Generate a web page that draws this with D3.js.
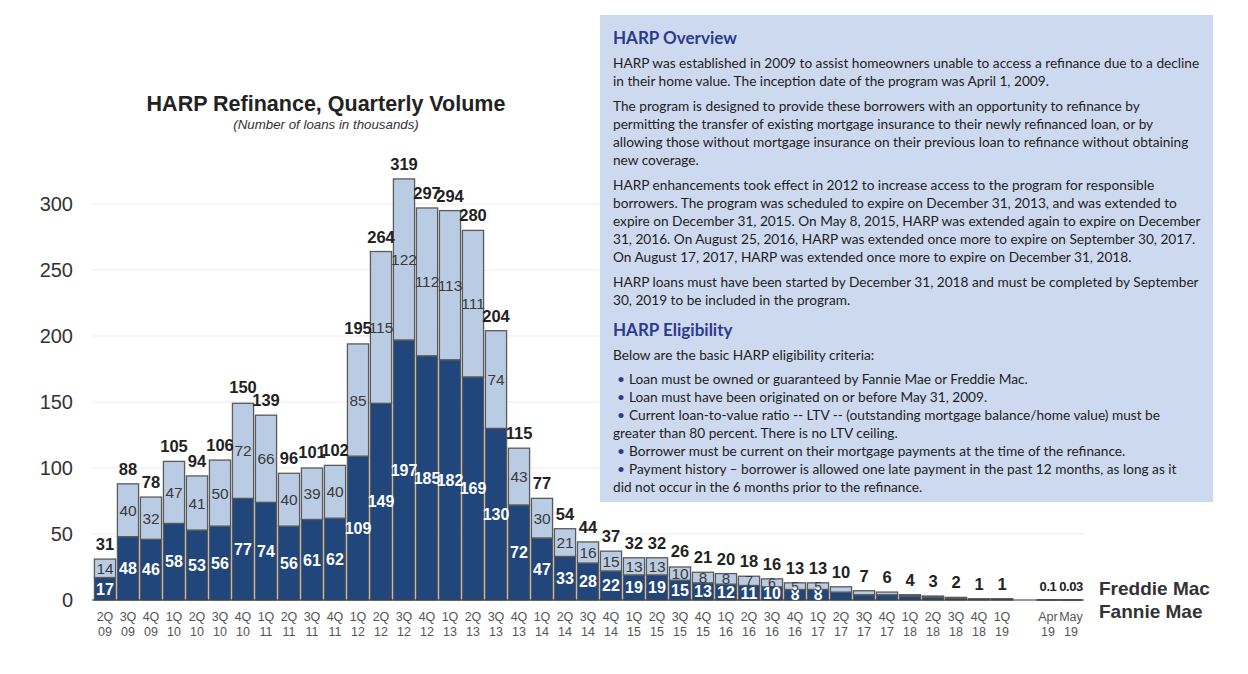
<!DOCTYPE html>
<html><head><meta charset="utf-8">
<script src="https://cdn.jsdelivr.net/npm/d3@7"></script>
<style>body{margin:0;background:#fff;} svg{display:block;}</style>
</head><body><svg id="c" width="1248" height="674"></svg>
<script>
// ---------- DATA ----------
const quarters = ["2Q 09","3Q 09","4Q 09",
  "1Q 10","2Q 10","3Q 10","4Q 10",
  "1Q 11","2Q 11","3Q 11","4Q 11",
  "1Q 12","2Q 12","3Q 12","4Q 12",
  "1Q 13","2Q 13","3Q 13","4Q 13",
  "1Q 14","2Q 14","3Q 14","4Q 14",
  "1Q 15","2Q 15","3Q 15","4Q 15",
  "1Q 16","2Q 16","3Q 16","4Q 16",
  "1Q 17","2Q 17","3Q 17","4Q 17",
  "1Q 18","2Q 18","3Q 18","4Q 18",
  "1Q 19","Apr 19","May 19"];
const fannieMae = [17,48,46,58,53,56,77,74,56,61,62,109,149,197,185,182,169,130,72,47,33,28,22,19,19,15,13,12,11,10,8,8,6,4,4,3,2,1.2,0.6,0.6,0.06,0.02];
const freddieMac = [14,40,32,47,41,50,72,66,40,39,40,85,115,122,112,113,111,74,43,30,21,16,15,13,13,10,8,8,7,6,5,5,4,3,2,1,1,0.8,0.4,0.4,0.04,0.01];
const totals = [31,88,78,105,94,106,150,139,96,101,102,195,264,319,297,294,280,204,115,77,54,44,37,32,32,26,21,20,18,16,13,13,10,7,6,4,3,2,1,1,0.1,0.03];
const gapAfter = "1Q 19";          // an empty slot follows this category
const innerLabelMin = 13;          // segment labels shown for totals >= this
const yTicks = [0,50,100,150,200,250,300];
const seriesNames = ["Freddie Mac","Fannie Mae"];

const title = "HARP Refinance, Quarterly Volume";
const subtitle = "(Number of loans in thousands)";

const boxBlocks = [
  {type:"h", text:"HARP Overview"},
  {type:"p", lines:["HARP was established in 2009 to assist homeowners unable to access a refinance due to a decline",
                    "in their home value.  The inception date of the program was April 1, 2009."]},
  {type:"p", lines:["The program is designed to provide these borrowers with an opportunity to refinance by",
                    "permitting the transfer of existing mortgage insurance to their newly refinanced loan, or by",
                    "allowing those without mortgage insurance on their previous loan to refinance without obtaining",
                    "new coverage."]},
  {type:"p", lines:["HARP enhancements took effect in 2012 to increase access to the program for responsible",
                    "borrowers.  The program was scheduled to expire on December 31, 2013, and was extended to",
                    "expire on December 31, 2015.  On May 8, 2015, HARP was extended again to expire on December",
                    "31, 2016.  On August 25, 2016, HARP was extended once more to expire on September 30, 2017.",
                    "On August 17, 2017, HARP was extended once more to expire on December 31, 2018."]},
  {type:"p", lines:["HARP loans must have been started by December 31, 2018 and must be completed by September",
                    "30, 2019 to be included in the program."]},
  {type:"h", text:"HARP Eligibility"},
  {type:"p", lines:["Below are the basic HARP eligibility criteria:"]},
  {type:"b", lines:["•Loan must be owned or guaranteed by Fannie Mae or Freddie Mac.",
                    "•Loan must have been originated on or before May 31, 2009.",
                    "•Current loan-to-value ratio -- LTV -- (outstanding mortgage balance/home value) must be",
                    "greater than 80 percent.  There is no LTV ceiling.",
                    "•Borrower must be current on their mortgage payments at the time of the refinance.",
                    "•Payment history – borrower is allowed one late payment in the past 12 months, as long as it",
                    "did not occur in the 6 months prior to the refinance."]}
];

// ---------- CHART ----------
const svg = d3.select("#c");
const FONT = "'Liberation Sans', Arial, sans-serif";
const DARK = "#21467c", LIGHT = "#bacbe4", EDGE = "#5a5a5a";

const domain = quarters.flatMap(q => q === gapAfter ? [q, "_gap"] : [q]);
const x = d3.scaleBand().domain(domain).range([93.5, 93.5 + domain.length * 23])
  .paddingInner(0.08).paddingOuter(0.04);
const y = d3.scaleLinear().domain([0, 300]).range([600, 204]);

const data = quarters.map((q, i) => ({q, fm: fannieMae[i], fr: freddieMac[i], total: totals[i]}));

// gridlines
svg.append("g").selectAll("line").data(yTicks.filter(t => t > 0)).join("line")
  .attr("x1", 92).attr("x2", 1085).attr("y1", d => y(d)).attr("y2", d => y(d))
  .attr("stroke", "#ececec").attr("stroke-width", 1);

// y axis labels
const yAxis = svg.append("g").attr("transform", "translate(80,0)")
  .call(d3.axisLeft(y).tickValues(yTicks).tickSize(0).tickPadding(7));
yAxis.select(".domain").remove();
yAxis.selectAll("text").attr("font-family", FONT).attr("font-size", 20).attr("fill", "#333");

// text box
const box = svg.append("g");
box.append("rect").attr("x", 600).attr("y", 15).attr("width", 613).attr("height", 487).attr("fill", "#cdd9ee");

// bars
const bars = svg.append("g");
const g = bars.selectAll("g").data(data).join("g");
g.append("rect").attr("x", d => x(d.q)).attr("width", x.bandwidth())
  .attr("y", d => y(d.fm)).attr("height", d => y(0) - y(d.fm))
  .attr("fill", DARK).attr("stroke", EDGE).attr("stroke-width", 1.3);
g.append("rect").attr("x", d => x(d.q)).attr("width", x.bandwidth())
  .attr("y", d => y(d.fm + d.fr)).attr("height", d => y(d.fm) - y(d.fm + d.fr))
  .attr("fill", LIGHT).attr("stroke", EDGE).attr("stroke-width", 1.3);

// x axis line
svg.append("line").attr("x1", 92).attr("x2", 1084).attr("y1", y(0)).attr("y2", y(0))
  .attr("stroke", "#333").attr("stroke-width", 1);

// segment labels (smaller where the segment is short)
const inner = data.filter(d => d.total >= innerLabelMin);
const segSize = v => Math.min(15.5, 11 + (y(0) - y(v)) * 0.4);
svg.append("g").selectAll("text").data(inner).join("text")
  .attr("x", d => x(d.q) + x.bandwidth() / 2)
  .attr("y", d => (y(0) + y(d.fm)) / 2).attr("dy", "0.36em")
  .attr("text-anchor", "middle").attr("font-family", FONT)
  .attr("font-size", d => segSize(d.fm) + 0.5)
  .attr("font-weight", "bold").attr("fill", "#fff").text(d => d.fm);
svg.append("g").selectAll("text").data(inner).join("text")
  .attr("x", d => x(d.q) + x.bandwidth() / 2)
  .attr("y", d => (y(d.fm) + y(d.fm + d.fr)) / 2).attr("dy", "0.36em")
  .attr("text-anchor", "middle").attr("font-family", FONT)
  .attr("font-size", d => segSize(d.fr))
  .attr("fill", "#3a3a3a").text(d => d.fr);

// total labels
svg.append("g").selectAll("text").data(data).join("text")
  .attr("x", d => x(d.q) + x.bandwidth() / 2)
  .attr("y", d => y(Math.max(d.total, d.fm + d.fr)) - 9)
  .attr("text-anchor", "middle").attr("font-family", FONT)
  .attr("font-size", d => d.total < 1 ? 13 : 16.5).attr("font-weight", "bold")
  .attr("letter-spacing", d => d.total < 1 ? -0.4 : 0)
  .attr("fill", "#222").text(d => d.total);

// x axis labels
const xAxis = svg.append("g").attr("transform", `translate(0,${y(0)})`)
  .call(d3.axisBottom(x).tickValues(quarters).tickSize(0).tickFormat(""));
xAxis.select(".domain").remove();
xAxis.selectAll(".tick text").each(function(d) {
  const parts = d.split(" ");
  const t = d3.select(this).attr("y", 0).attr("dy", null)
    .attr("font-family", FONT).attr("font-size", 12.5).attr("fill", "#555");
  t.selectAll("tspan").data(parts).join("tspan")
    .attr("x", 0).attr("y", (p, i) => 21 + i * 15).text(p => p);
});

// legend labels
svg.append("g").selectAll("text").data(seriesNames).join("text")
  .attr("x", 1099).attr("y", (d, i) => 595 + i * 23)
  .attr("font-family", FONT).attr("font-size", 19).attr("font-weight", "bold")
  .attr("fill", "#333").text(d => d);

// title
svg.append("text").attr("x", 326).attr("y", 111).attr("text-anchor", "middle")
  .attr("font-family", FONT).attr("font-size", 21.5).attr("font-weight", "bold")
  .attr("fill", "#222").text(title);
svg.append("text").attr("x", 326).attr("y", 129).attr("text-anchor", "middle")
  .attr("font-family", FONT).attr("font-size", 13.3).attr("font-style", "italic")
  .attr("fill", "#333").text(subtitle);

// ---------- TEXT BOX CONTENT ----------
const BFONT = "Lato, 'Open Sans', sans-serif";
const probe = box.append("text").attr("font-family", BFONT).attr("font-size", 12)
  .text(boxBlocks[1].lines[0]);
const bodySize = 12 * 587 / probe.node().getComputedTextLength();
probe.remove();
const probeH = box.append("text").attr("font-family", BFONT).attr("font-size", 15).attr("font-weight", "bold")
  .text(boxBlocks[0].text);
const headSize = 15 * 124 / probeH.node().getComputedTextLength();
probeH.remove();

const BX = 613;
let cy = 44;
const LINE = 18;
boxBlocks.forEach((b, bi) => {
  if (b.type === "h") {
    if (bi > 0) cy += 6;
    box.append("text").attr("x", BX).attr("y", cy).attr("font-family", BFONT)
      .attr("font-size", headSize).attr("font-weight", "bold").attr("fill", "#2e3a8f").text(b.text);
    cy += 24;
  } else {
    if (b.type === "b") cy -= 1;
    b.lines.forEach(l => {
      const t = box.append("text").attr("x", BX).attr("y", cy).attr("font-family", BFONT)
        .attr("font-size", bodySize).attr("fill", "#1e1e1e");
      if (l.startsWith("•")) {
        t.append("tspan").attr("x", BX + 4).attr("fill", "#2e3a8f").text("•");
        t.append("tspan").attr("x", BX + 16).text(l.slice(1));
      } else t.text(l);
      cy += LINE;
    });
    cy += 7;
  }
});
</script>
</body></html>
